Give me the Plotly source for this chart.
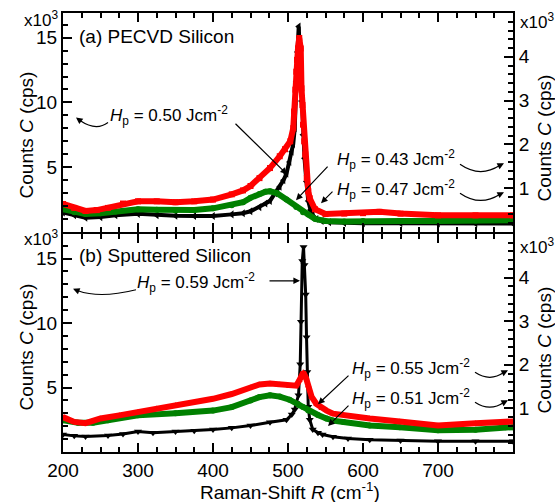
import plotly.graph_objects as go

# ---------------- data (x10^3 counts) ----------------
# Panel (a) PECVD silicon
a_black_R = [200, 215, 230, 250, 270, 300, 325, 350, 375, 400, 425, 440, 450, 462, 470, 476, 483, 489, 494, 498,
             502, 505, 507, 509, 510, 511, 512.5, 514.3, 517, 518, 520, 522, 524.5, 527, 530, 533, 538, 545, 555,
             575, 600, 650, 700, 750, 800]
a_black_C = [1.5, 1.3, 1.1, 1.15, 1.3, 1.4, 1.3, 1.25, 1.23, 1.23, 1.36, 1.45, 1.6, 1.92, 2.2, 2.4, 3.0, 3.5, 4.0, 4.5,
             5.4, 6.2, 6.8, 8.0, 10.1, 11.6, 13.9, 15.85, 12.6, 10.1, 7.5, 5.7, 3.9, 2.4, 1.7, 1.3, 1.0, 0.85, 0.75,
             0.7, 0.68, 0.68, 0.66, 0.66, 0.66]

a_red_R = [200, 215, 230, 245, 260, 280, 300, 325, 350, 375, 400, 425, 440, 450, 462, 476, 489, 496, 503, 507,
           508, 509.8, 511, 512, 513.3, 515, 517, 518, 519.3, 520, 521.5, 523, 525, 527, 529, 536, 550, 575, 600,
           622, 650, 700, 750, 800]
a_red_C = [0.64, 0.55, 0.48, 0.5, 0.55, 0.65, 0.70, 0.70, 0.68, 0.70, 0.74, 0.86, 0.95, 1.05, 1.23, 1.46, 1.73, 1.89,
           2.07, 2.37, 2.75, 3.25, 3.66, 3.93, 4.19, 4.43, 4.19, 3.28, 2.9, 2.45, 2.07, 1.77, 1.23, 0.93, 0.77, 0.52,
           0.41, 0.42, 0.43, 0.46, 0.42, 0.38, 0.38, 0.38]

a_green_R = [200, 215, 230, 250, 270, 300, 325, 350, 375, 400, 425, 440, 450, 462, 470, 476, 485, 498, 511, 520, 527,
             536, 550, 575, 600, 650, 700, 750, 800]
a_green_C = [0.52, 0.45, 0.41, 0.43, 0.47, 0.52, 0.51, 0.49, 0.5, 0.54, 0.61, 0.68, 0.78, 0.87, 0.92, 0.93, 0.89, 0.74,
             0.57, 0.45, 0.4, 0.3, 0.25, 0.24, 0.25, 0.25, 0.25, 0.26, 0.27]

# Panel (b) sputtered silicon
b_black_R = [200, 215, 230, 260, 280, 300, 320, 350, 375, 400, 425, 450, 476, 498, 505, 509, 511, 514, 516.3, 517.3,
             519, 520.7, 522, 523.6, 524.7, 525.7, 527, 529, 533, 540, 546, 560, 580, 609, 650, 700, 750, 800]
b_black_C = [1.36, 1.25, 1.2, 1.28, 1.4, 1.59, 1.5, 1.59, 1.65, 1.74, 1.87, 2.05, 2.3, 2.5, 2.9, 3.3, 3.8, 4.4, 6.8, 10.1,
             14.8, 15.9, 14.5, 12.2, 8.9, 6.2, 3.5, 2.5, 1.74, 1.5, 1.36, 1.18, 1.05, 0.95, 0.9, 0.84, 0.84, 0.84]

b_red_R = [200, 215, 230, 250, 275, 300, 325, 350, 378, 400, 425, 450, 462, 476, 489, 502, 511, 515, 520.4, 524, 527,
           531.6, 538, 545, 551.5, 560, 574, 609, 649, 700, 750, 790, 800]
b_red_C = [0.8, 0.69, 0.66, 0.77, 0.84, 0.92, 1.0, 1.07, 1.14, 1.22, 1.33, 1.48, 1.55, 1.57, 1.55, 1.5, 1.52, 1.64, 1.83,
           1.7, 1.52, 1.26, 1.1, 1.0, 0.95, 0.88, 0.84, 0.77, 0.7, 0.61, 0.66, 0.69, 0.7]

b_green_R = [200, 220, 240, 260, 300, 350, 400, 425, 450, 462, 476, 489, 502, 515, 520, 527, 540, 551, 560, 574, 609,
             649, 700, 750, 790, 800]
b_green_C = [0.73, 0.67, 0.67, 0.73, 0.84, 0.89, 0.95, 1.03, 1.18, 1.26, 1.3, 1.27, 1.2, 1.07, 1.03, 0.95, 0.85, 0.77,
             0.72, 0.69, 0.61, 0.57, 0.5, 0.51, 0.57, 0.57]

x_tick_vals = [200, 300, 400, 500, 600, 700]
left_tick_vals = [5, 10, 15]
right_tick_vals = [1, 2, 3, 4]

labels_a = ["0.50", "0.43", "0.47"]
labels_b = ["0.59", "0.55", "0.51"]

# ---------------- figure ----------------
FONT = "Liberation Sans, Arial, sans-serif"
RED = "#ff0000"
GREEN = "#008000"
BLACK = "#000000"

fig = go.Figure()


def add(x, y, color, symbol, xa, ya, lw, ms):
    fig.add_trace(go.Scatter(x=x, y=y, mode="lines+markers", xaxis=xa, yaxis=ya,
                             line=dict(color=color, width=lw),
                             marker=dict(color=color, symbol=symbol, size=ms, line=dict(width=0)),
                             showlegend=False, hoverinfo="skip"))


add(a_black_R, a_black_C, BLACK, "triangle-left", "x", "y", 4, 7)
add(a_green_R, a_green_C, GREEN, "circle", "x", "y2", 6, 6)
add(a_red_R, a_red_C, RED, "square", "x", "y2", 6, 6)

add(b_green_R, b_green_C, GREEN, "circle", "x2", "y4", 6, 6)
add(b_red_R, b_red_C, RED, "triangle-up", "x2", "y4", 6, 6)
add(b_black_R, b_black_C, BLACK, "triangle-down", "x2", "y3", 3, 7)

tickfont = dict(family=FONT, size=19, color="black")
base = dict(showline=True, linecolor="black", linewidth=2, ticks="inside", ticklen=9, tickwidth=1.5,
            tickcolor="black", showgrid=False, zeroline=False, tickfont=tickfont)


def minor(dt, t0):
    return dict(ticks="inside", ticklen=5, tickwidth=1.5, tickcolor="black", showgrid=False, dtick=dt, tick0=t0)


# plot area geometry (pixels) for layout positioning
L, R_, T, B = 63, 42, 11, 50
W, H = 555, 502
PW, PH = W - L - R_, H - T - B


def PX(x):
    return (x - L) / PW


def PY(y):
    return (H - B - y) / PH


dom_a = [PY(231), 1.0]
dom_b = [0.0, PY(233)]

fig.update_layout(
    width=W, height=H, margin=dict(l=L, r=R_, t=T, b=B, pad=0),
    plot_bgcolor="white", paper_bgcolor="white",
    xaxis=dict(base, domain=[0, 1], anchor="y", range=[200, 800], tickvals=x_tick_vals + [800],
               showticklabels=False, mirror="ticks", minor=minor(25, 200)),
    xaxis2=dict(base, domain=[0, 1], anchor="y3", range=[200, 800], tickvals=x_tick_vals,
                showticklabels=True, mirror="ticks", minor=minor(25, 200)),
    yaxis=dict(base, domain=dom_a, anchor="x", range=[0, 16.9], tickvals=left_tick_vals, minor=minor(1, 0)),
    yaxis2=dict(base, overlaying="y", side="right", anchor="x", range=[0, 5], tickvals=right_tick_vals,
                minor=minor(0.2, 0)),
    yaxis3=dict(base, domain=dom_b, anchor="x2", range=[0, 16.9], tickvals=left_tick_vals, minor=minor(1, 0)),
    yaxis4=dict(base, overlaying="y3", side="right", anchor="x2", range=[0, 5], tickvals=right_tick_vals,
                minor=minor(0.2, 0)),
)

ann = []
shapes = []
tf = dict(family=FONT, size=19, color="black")
hf = dict(family=FONT, size=17, color="black")


def text(x, y, s, font=tf, xanchor="left", angle=0):
    ann.append(dict(x=PX(x), y=PY(y), xref="paper", yref="paper", text=s, showarrow=False, font=font,
                    xanchor=xanchor, yanchor="middle", textangle=angle))


def arrow(tail, tip):
    ann.append(dict(x=PX(tip[0]), y=PY(tip[1]), xref="paper", yref="paper", text="", showarrow=True,
                    ax=tail[0] - tip[0], ay=tail[1] - tip[1], axref="pixel", ayref="pixel",
                    arrowhead=2, arrowsize=1.1, arrowwidth=1.2, arrowcolor="black"))


def curve(p0, c, p1, tip):
    shapes.append(dict(type="path", xref="paper", yref="paper",
                       path=f"M {PX(p0[0])},{PY(p0[1])} Q {PX(c[0])},{PY(c[1])} {PX(p1[0])},{PY(p1[1])}",
                       line=dict(color="black", width=1.2)))
    arrow(p1, tip)


def hp(v):
    return f"<i>H</i><sub>p</sub> = {v} Jcm<sup>-2</sup>"


# axis titles
xt = "Raman-Shift <i>R</i> (cm<sup>-1</sup>)"
yt = "Counts <i>C</i> (cps)"
text(290, 491, xt, xanchor="center")
for yc in (134, 347):
    text(26, yc, yt, xanchor="center", angle=-90)
    text(544, yc + 3, yt, xanchor="center", angle=-90)

# multipliers
for yl, yr in ((17, 19), (237, 245)):
    text(22, yl, "x10<sup>3</sup>", font=dict(family=FONT, size=17, color="black"))
    text(518, yr, "x10<sup>3</sup>", font=dict(family=FONT, size=17, color="black"))

# panel labels
text(77, 35, "(a) PECVD Silicon")
text(77, 255, "(b) Sputtered Silicon")

# panel (a) labels
text(108, 114, hp(labels_a[0]), font=hf)
arrow((234, 121), (287, 173))
curve((108, 121), (96, 130), (80, 119), (76, 116))

text(335, 158, hp(labels_a[1]), font=hf)
arrow((329, 164), (296, 199))
curve((460, 163), (480, 177), (500, 164), (504, 162))

text(335, 188, hp(labels_a[2]), font=hf)
arrow((334, 189), (321, 202))
curve((460, 192), (480, 206), (500, 193), (504, 191))

# panel (b) labels
text(135, 282, hp(labels_b[0]), font=hf)
arrow((268, 280), (300, 280))
curve((136, 289), (100, 298), (78, 290), (73, 288))

text(350, 368, hp(labels_b[1]), font=hf)
arrow((350, 374), (318, 404))
curve((475, 372), (490, 382), (504, 372), (508, 370))

text(350, 398, hp(labels_b[2]), font=hf)
arrow((350, 404), (328, 426))
curve((475, 402), (490, 412), (504, 402), (508, 400))

fig.update_layout(annotations=ann, shapes=shapes)
fig.write_html("out.html", config={"displayModeBar": False},
               post_script="document.body.style.margin='0';document.body.style.overflow='hidden';")
